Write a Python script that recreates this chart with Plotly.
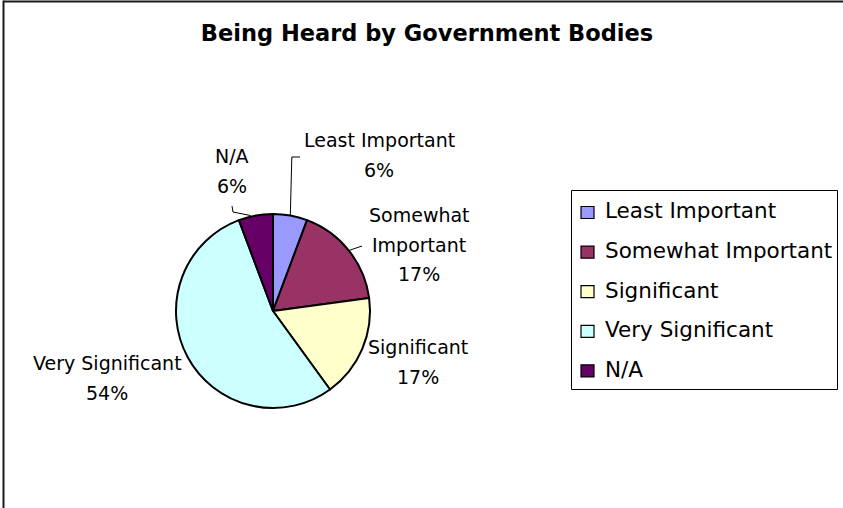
import math
import plotly.graph_objects as go

# Survey responses per importance rating
categories = ["Least Important", "Somewhat Important", "Significant", "Very Significant", "N/A"]
responses = [2, 6, 6, 19, 2]
slice_colors = ["#9999FF", "#993366", "#FFFFCC", "#CCFFFF", "#660066"]
chart_title = "Being Heard by Government Bodies"

# Canvas and pie geometry (pixels)
W, H = 843, 508
CX, CY, R = 273, 311, 97
FONT = "DejaVu Sans"


def px(x):
    return x / W


def py(y):
    return 1 - y / H


total = sum(responses)
percents = [round(100 * v / total) for v in responses]

fig = go.Figure(
    go.Pie(
        labels=categories,
        values=responses,
        sort=False,
        direction="clockwise",
        rotation=0,
        marker=dict(colors=slice_colors, line=dict(color="black", width=2)),
        textinfo="none",
        hoverinfo="label+percent",
        showlegend=False,
        domain=dict(x=[px(CX - R), px(CX + R)], y=[py(CY + R), py(CY - R)]),
    )
)

# Data label placement: (centre x, first line y) in pixels
label_pos = {
    "Least Important": (379, 140),
    "Somewhat Important": (419, 215),
    "Significant": (418, 347),
    "Very Significant": (107, 363),
    "N/A": (232, 156),
}
wrapped = {"Somewhat Important"}
LINE_STEP = 29.5

annotations = []
for name, pct in zip(categories, percents):
    lx, ly = label_pos[name]
    lines = name.split(" ") if name in wrapped else [name]
    lines = lines + [f"{pct}%"]
    for i, line in enumerate(lines):
        annotations.append(dict(
            x=px(lx), y=py(ly + i * LINE_STEP), xref="paper", yref="paper",
            text=line, showarrow=False, xanchor="center", yanchor="middle",
            font=dict(family=FONT, size=19, color="black"),
        ))

shapes = []

# Leader lines from slice edge (mid-angle) to label
def edge_point(idx):
    start = sum(responses[:idx])
    mid = (start + responses[idx] / 2) / total * 2 * math.pi
    return CX + R * math.sin(mid), CY - R * math.cos(mid)


leader_bends = {
    "Least Important": lambda ex, ey: [(ex, ey), (ex + 1.5, 157), (300, 157)],
    "Somewhat Important": lambda ex, ey: [(ex, ey), (362, 246)],
    "N/A": lambda ex, ey: [(ex - 5, ey), (233, 212), (232, 206)],
}
for idx, name in enumerate(categories):
    if name in leader_bends:
        ex, ey = edge_point(idx)
        pts = leader_bends[name](ex, ey)
        path = "M " + " L ".join(f"{px(x)} {py(y)}" for x, y in pts)
        shapes.append(dict(type="path", xref="paper", yref="paper", path=path,
                           line=dict(color="black", width=1)))

# Chart frame (top and left edges)
shapes.append(dict(type="line", xref="paper", yref="paper",
                   x0=px(3.5), x1=px(W + 5), y0=py(1.5), y1=py(1.5),
                   line=dict(color="#1a1a1a", width=2)))
shapes.append(dict(type="line", xref="paper", yref="paper",
                   x0=px(3.5), x1=px(3.5), y0=py(0.5), y1=py(H + 5),
                   line=dict(color="#1a1a1a", width=2)))

# Legend box
LEG_X0, LEG_Y0, LEG_X1, LEG_Y1 = 571.5, 190.5, 837.5, 389.5
shapes.append(dict(type="rect", xref="paper", yref="paper",
                   x0=px(LEG_X0), x1=px(LEG_X1), y0=py(LEG_Y1), y1=py(LEG_Y0),
                   line=dict(color="black", width=1), fillcolor="white", layer="below"))
ITEM_Y0, ITEM_STEP = 211, 39.6
for i, (name, col) in enumerate(zip(categories, slice_colors)):
    yc = ITEM_Y0 + i * ITEM_STEP
    shapes.append(dict(type="rect", xref="paper", yref="paper",
                       x0=px(581), x1=px(594), y0=py(yc + 7.5), y1=py(yc - 4.5),
                       line=dict(color="black", width=1.2), fillcolor=col))
    annotations.append(dict(
        x=px(603), y=py(yc), xref="paper", yref="paper", text=name,
        showarrow=False, xanchor="left", yanchor="middle",
        font=dict(family=FONT, size=21.5, color="black"),
    ))

fig.update_layout(
    width=W, height=H,
    margin=dict(l=0, r=0, t=0, b=0),
    paper_bgcolor="white", plot_bgcolor="white",
    title=dict(text=chart_title, x=px(427), y=py(33), xanchor="center", yanchor="middle",
               font=dict(family=FONT, size=22.5, color="black", weight="bold")),
    annotations=annotations,
    shapes=shapes,
    showlegend=False,
)

fig.write_html("out.html")
